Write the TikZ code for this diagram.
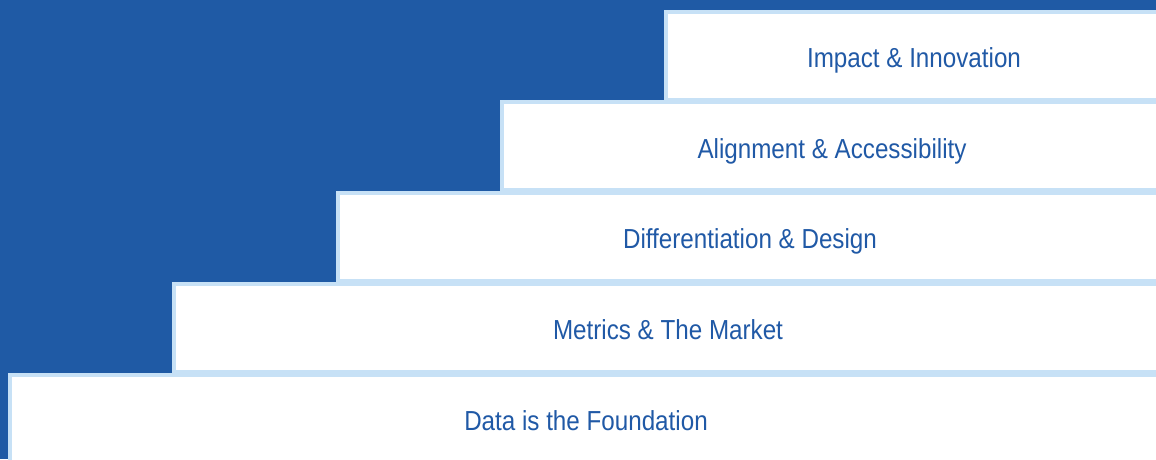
\documentclass[tikz,border=0pt]{standalone}
\usepackage{fontspec}
\setmainfont{Liberation Sans}[FakeStretch=0.88]
\definecolor{stairblue}{HTML}{1F5AA5}
\definecolor{stairedge}{HTML}{C7E1F6}
\definecolor{stairtext}{HTML}{2059A6}
\begin{document}
\begin{tikzpicture}[x=1pt,y=-1pt,
  stepbox/.style={draw=stairedge, fill=white, line width=3.5pt, rectangle,
    inner sep=0pt, outer sep=0pt, anchor=north west},
  steplabel/.style={text=stairtext, anchor=base, inner sep=0pt,
    font=\fontsize{27.5}{33}\selectfont}]
  \useasboundingbox (0,0) rectangle (1156,459);
  \clip (0,0) rectangle (1156,459);
  \fill[stairblue] (0,0) rectangle (1156,459);
  % steps, drawn from the top down so each lower step overlaps the one above
  \node[stepbox, minimum width=496.5pt, minimum height=87.5pt] (s5) at (665.75,11.75) {};
  \node[stepbox, minimum width=660.5pt, minimum height=87.5pt] (s4) at (501.75,101.75) {};
  \node[stepbox, minimum width=824.5pt, minimum height=87.5pt] (s3) at (337.75,192.75) {};
  \node[stepbox, minimum width=988.5pt, minimum height=87.5pt] (s2) at (173.75,283.75) {};
  \node[stepbox, minimum width=1152.5pt, minimum height=120pt] (s1) at (9.75,374.75) {};
  % captions
  \node[steplabel] (t5) at (914,67.5) {Impact \& Innovation};
  \node[steplabel] (t4) at (832,158.5) {Alignment \& Accessibility};
  \node[steplabel] (t3) at (750,248.5) {Differentiation \& Design};
  \node[steplabel] (t2) at (668,339.5) {Metrics \& The Market};
  \node[steplabel] (t1) at (586,430.5) {Data is the Foundation};
\end{tikzpicture}
\end{document}
